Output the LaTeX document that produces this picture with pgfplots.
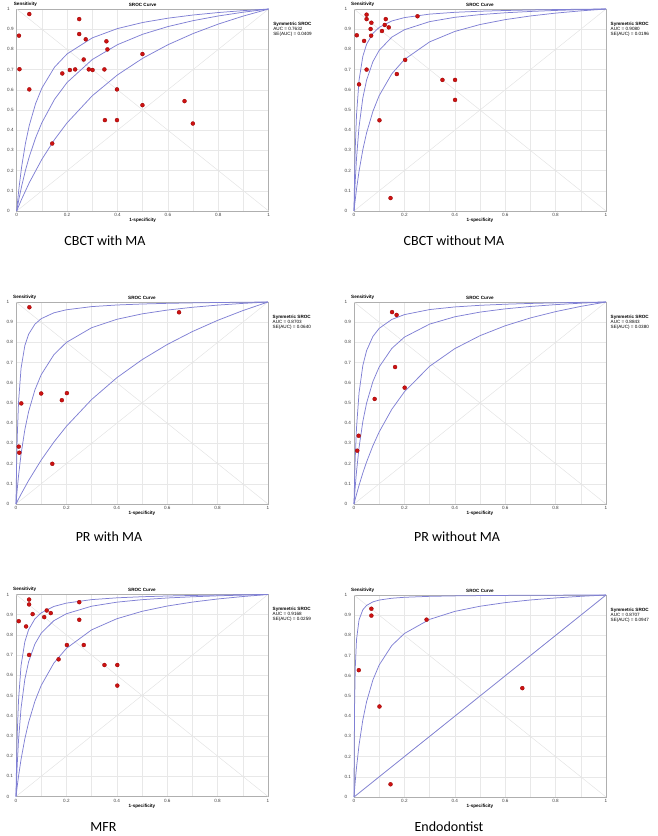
\documentclass[border=0pt]{standalone}
\usepackage{fontspec}
\setmainfont{Liberation Sans}
\newfontfamily\capfont{Carlito}
\usepackage{pgfplots}
\usepackage{pgfplotstable}
\pgfplotsset{compat=1.18}
\definecolor{curveblue}{RGB}{128,128,212}
\definecolor{ptred}{RGB}{205,18,18}
\definecolor{ptedge}{RGB}{150,0,0}
\definecolor{gridc}{RGB}{232,232,232}
\definecolor{framec}{RGB}{175,175,175}
\definecolor{diagc}{RGB}{228,228,228}

\newcommand{\smallfnt}{\fontsize{4.6}{5.2}\selectfont}
\pgfplotsset{
  sroc/.style={
    scale only axis, width=252pt, height=202pt,
    xmin=0, xmax=1, ymin=0, ymax=1,
    xtick={0,0.2,0.4,0.6,0.8,1}, xticklabels={0,0.2,0.4,0.6,0.8,1},
    minor xtick={0.1,0.3,0.5,0.7,0.9},
    ytick={0,0.1,0.2,0.3,0.4,0.5,0.6,0.7,0.8,0.9,1},
    yticklabels={0,0.1,0.2,0.3,0.4,0.5,0.6,0.7,0.8,0.9,1},
    grid=both, major grid style={draw=gridc, line width=0.5pt}, minor grid style={draw=gridc, line width=0.5pt},
    axis line style={draw=framec, line width=0.6pt},
    major tick length=0pt, minor tick length=0pt,
    tick label style={font=\smallfnt, text=black!75},
    yticklabel style={anchor=west, xshift=-13pt},
    xticklabel style={yshift=1pt},
    /pgf/number format/assume math mode=true,
    clip=false,
    anchor=north west,
  },
  curve/.style={draw=curveblue, line width=0.75pt, no marks},
  diag/.style={draw=diagc, line width=0.5pt, no marks},
  pts/.style={scatter, only marks, mark=*,
    visualization depends on={\thisrow{r}\as\perpointsize},
    scatter/@pre marker code/.append style={/tikz/mark size=\perpointsize},
    scatter/use mapped color={draw=ptedge, fill=ptred}, line width=0.3pt},
}
\newcommand{\decor}[2]{%
  \node[anchor=south west, font=\bfseries\smallfnt, inner sep=0pt] at (rel axis cs:0,1) [xshift=-3pt, yshift=2.5pt] {Sensitivity};
  \node[anchor=south, font=\bfseries\smallfnt, inner sep=0pt] at (rel axis cs:0.5,1) [yshift=2.5pt] {SROC Curve};
  \node[anchor=north, font=\bfseries\smallfnt, inner sep=0pt] at (rel axis cs:0.5,0) [yshift=-7pt] {1-specificity};
  \node[anchor=north west, font=\smallfnt, inner sep=0pt, align=left] at (rel axis cs:1,1) [xshift=4.5pt, yshift=-12.5pt] {\textbf{Symmetric SROC}\\AUC = #1\\SE(AUC) = #2};
  \addplot[diag] coordinates {(0,0)(1,1)};
  \addplot[diag] coordinates {(0,1)(1,0)};
}

\begin{document}
\begin{tikzpicture}
\path[use as bounding box] (0pt,0pt) rectangle (658pt,-836pt);

% ---------------- Panel 1: CBCT with MA
\begin{axis}[sroc, at={(16.7pt,-9pt)}]
\decor{0.7632}{0.0409}
\addplot[curve] coordinates {(0,0)(0.0025,0.0339)(0.005,0.0657)(0.01,0.1239)(0.02,0.2222)(0.035,0.3368)(0.05,0.4242)(0.075,0.5316)(0.1,0.6087)(0.15,0.7119)(0.2,0.7778)(0.3,0.8571)(0.4,0.9032)(0.5,0.9333)(0.6,0.9545)(0.7,0.9703)(0.8,0.9825)(0.9,0.9921)(1,1)};
\addplot[curve] coordinates {(0,0)(0.005,0.034)(0.01,0.066)(0.02,0.125)(0.035,0.2025)(0.05,0.2692)(0.075,0.3621)(0.1,0.4375)(0.15,0.5526)(0.2,0.6364)(0.3,0.75)(0.4,0.8235)(0.5,0.875)(0.6,0.913)(0.7,0.9423)(0.8,0.9655)(0.9,0.9844)(1,1)};
\addplot[curve] coordinates {(0,0)(0.01,0.0304)(0.02,0.0595)(0.05,0.1403)(0.1,0.2562)(0.15,0.3536)(0.2,0.4366)(0.3,0.5706)(0.4,0.6739)(0.5,0.7561)(0.6,0.823)(0.7,0.8785)(0.8,0.9254)(0.9,0.9654)(1,1)};
\addplot[pts] table {
x y r
0.050 0.975 2.1
0.248 0.950 2.1
0.009 0.868 2.6
0.248 0.876 1.6
0.274 0.850 2.1
0.356 0.840 1.6
0.360 0.800 2.1
0.499 0.777 1.6
0.266 0.750 2.6
0.011 0.702 2.6
0.181 0.681 1.9
0.211 0.698 2.0
0.232 0.701 1.7
0.286 0.701 2.1
0.301 0.698 1.7
0.348 0.701 1.7
0.050 0.602 1.6
0.398 0.602 1.6
0.499 0.524 2.0
0.666 0.544 1.9
0.699 0.433 1.9
0.350 0.450 1.7
0.398 0.450 1.6
0.141 0.334 1.6
};
\end{axis}

% ---------------- Panel 2: CBCT without MA
\begin{axis}[sroc, at={(354pt,-9pt)}]
\decor{0.9080}{0.0196}
\addplot[curve] coordinates {(0,0)(0.0005,0.0431)(0.001,0.0826)(0.0025,0.184)(0.005,0.3114)(0.01,0.4762)(0.02,0.6475)(0.035,0.7655)(0.05,0.8257)(0.075,0.8795)(0.1,0.9091)(0.15,0.9408)(0.2,0.9574)(0.3,0.9747)(0.4,0.9836)(0.5,0.989)(0.6,0.9926)(0.7,0.9953)(0.8,0.9972)(0.9,0.9988)(1,1)};
\addplot[curve] coordinates {(0,0)(0.001,0.0338)(0.0025,0.0806)(0.005,0.1496)(0.01,0.2612)(0.02,0.4167)(0.035,0.5594)(0.05,0.6481)(0.075,0.7394)(0.1,0.7955)(0.15,0.8607)(0.2,0.8974)(0.3,0.9375)(0.4,0.9589)(0.5,0.9722)(0.6,0.9813)(0.7,0.9879)(0.8,0.9929)(0.9,0.9968)(1,1)};
\addplot[curve] coordinates {(0,0)(0.0025,0.0292)(0.005,0.0569)(0.01,0.1081)(0.02,0.1967)(0.035,0.3032)(0.05,0.3871)(0.075,0.4932)(0.1,0.5714)(0.15,0.6792)(0.2,0.75)(0.3,0.8372)(0.4,0.8889)(0.5,0.9231)(0.6,0.9474)(0.7,0.9655)(0.8,0.9796)(0.9,0.9908)(1,1)};
\addplot[pts] table {
x y r
0.050 0.972 2.1
0.050 0.950 2.1
0.126 0.950 2.1
0.252 0.964 2.0
0.069 0.932 1.7
0.122 0.921 2.1
0.138 0.909 1.7
0.111 0.891 1.6
0.066 0.901 2.1
0.011 0.870 2.2
0.068 0.868 2.0
0.040 0.842 2.7
0.203 0.748 1.7
0.050 0.700 1.7
0.170 0.678 2.7
0.020 0.627 1.9
0.351 0.649 1.7
0.401 0.649 1.7
0.401 0.550 1.7
0.101 0.449 2.2
0.145 0.064 1.6
};
\end{axis}

% ---------------- Panel 3: PR with MA
\begin{axis}[sroc, at={(16pt,-302pt)}]
\decor{0.8703}{0.0640}
\addplot[curve] coordinates {(0,0)(0.0005,0.0476)(0.001,0.091)(0.0025,0.2004)(0.005,0.3344)(0.01,0.5025)(0.02,0.6711)(0.035,0.7839)(0.05,0.8403)(0.075,0.8902)(0.1,0.9174)(0.15,0.9464)(0.2,0.9615)(0.3,0.9772)(0.4,0.9852)(0.5,0.9901)(0.6,0.9934)(0.7,0.9957)(0.8,0.9975)(0.9,0.9989)(1,1)};
\addplot[curve] coordinates {(0,0)(0.0025,0.0386)(0.005,0.0744)(0.01,0.1391)(0.02,0.2462)(0.035,0.3672)(0.05,0.4571)(0.075,0.5647)(0.1,0.64)(0.15,0.7385)(0.2,0.8)(0.3,0.8727)(0.4,0.9143)(0.5,0.9412)(0.6,0.96)(0.7,0.9739)(0.8,0.9846)(0.9,0.9931)(1,1)};
\addplot[curve] coordinates {(0,0)(0.01,0.0246)(0.02,0.0485)(0.05,0.1163)(0.1,0.2174)(0.15,0.3061)(0.2,0.3846)(0.3,0.5172)(0.4,0.625)(0.5,0.7143)(0.6,0.7895)(0.7,0.8537)(0.8,0.9091)(0.9,0.9574)(1,1)};
\addplot[pts] table {
x y r
0.053 0.974 2.7
0.647 0.949 1.6
0.100 0.547 2.2
0.202 0.549 2.7
0.182 0.514 2.2
0.021 0.498 2.2
0.011 0.284 2.7
0.013 0.254 2.8
0.144 0.199 1.6
};
\end{axis}

% ---------------- Panel 4: PR without MA
\begin{axis}[sroc, at={(354pt,-302pt)}]
\decor{0.8843}{0.0380}
\addplot[curve] coordinates {(0,0)(0.001,0.0567)(0.0025,0.1307)(0.005,0.2317)(0.01,0.3774)(0.02,0.5505)(0.035,0.6852)(0.05,0.7595)(0.075,0.8295)(0.1,0.8696)(0.15,0.9137)(0.2,0.9375)(0.3,0.9626)(0.4,0.9756)(0.5,0.9836)(0.6,0.989)(0.7,0.9929)(0.8,0.9959)(0.9,0.9982)(1,1)};
\addplot[curve] coordinates {(0,0)(0.0025,0.0455)(0.005,0.0872)(0.01,0.161)(0.02,0.2794)(0.035,0.408)(0.05,0.5)(0.075,0.6064)(0.1,0.6786)(0.15,0.7703)(0.2,0.8261)(0.3,0.8906)(0.4,0.9268)(0.5,0.95)(0.6,0.9661)(0.7,0.9779)(0.8,0.987)(0.9,0.9942)(1,1)};
\addplot[curve] coordinates {(0,0)(0.005,0.0245)(0.01,0.0481)(0.02,0.0926)(0.035,0.1535)(0.05,0.2083)(0.075,0.2885)(0.1,0.3571)(0.15,0.4688)(0.2,0.5556)(0.3,0.6818)(0.4,0.7692)(0.5,0.8333)(0.6,0.8824)(0.7,0.9211)(0.8,0.9524)(0.9,0.9783)(1,1)};
\addplot[pts] table {
x y r
0.151 0.950 1.6
0.169 0.936 2.1
0.163 0.678 2.1
0.201 0.576 2.7
0.082 0.520 2.7
0.0185 0.338 2.1
0.013 0.264 2.8
};
\end{axis}

% ---------------- Panel 5: MFR
\begin{axis}[sroc, at={(16pt,-594.5pt)}]
\decor{0.9168}{0.0259}
\addplot[curve] coordinates {(0,0)(0.0005,0.0431)(0.001,0.0826)(0.0025,0.184)(0.005,0.3114)(0.01,0.4762)(0.02,0.6475)(0.035,0.7655)(0.05,0.8257)(0.075,0.8795)(0.1,0.9091)(0.15,0.9408)(0.2,0.9574)(0.3,0.9747)(0.4,0.9836)(0.5,0.989)(0.6,0.9926)(0.7,0.9953)(0.8,0.9972)(0.9,0.9988)(1,1)};
\addplot[curve] coordinates {(0,0)(0.001,0.0366)(0.0025,0.087)(0.005,0.1603)(0.01,0.2774)(0.02,0.4368)(0.035,0.5795)(0.05,0.6667)(0.075,0.755)(0.1,0.8085)(0.15,0.8702)(0.2,0.9048)(0.3,0.9421)(0.4,0.962)(0.5,0.9744)(0.6,0.9828)(0.7,0.9888)(0.8,0.9935)(0.9,0.9971)(1,1)};
\addplot[curve] coordinates {(0,0)(0.0025,0.0268)(0.005,0.0524)(0.01,0.1)(0.02,0.1833)(0.035,0.2852)(0.05,0.3667)(0.075,0.4714)(0.1,0.55)(0.15,0.66)(0.2,0.7333)(0.3,0.825)(0.4,0.88)(0.5,0.9167)(0.6,0.9429)(0.7,0.9625)(0.8,0.9778)(0.9,0.99)(1,1)};
\addplot[pts] table {
x y r
0.052 0.975 2.1
0.052 0.951 2.1
0.251 0.962 2.1
0.122 0.921 2.6
0.138 0.908 2.0
0.066 0.903 2.1
0.112 0.888 1.6
0.251 0.875 1.6
0.011 0.868 2.2
0.040 0.842 2.8
0.202 0.750 1.9
0.269 0.750 2.6
0.052 0.701 1.7
0.169 0.679 2.7
0.351 0.651 1.9
0.402 0.651 1.9
0.402 0.549 1.9
};
\end{axis}

% ---------------- Panel 6: Endodontist
\begin{axis}[sroc, at={(354pt,-595pt)}]
\decor{0.8707}{0.0947}
\addplot[curve] coordinates {(0,0)(0.0005,0.149)(0.001,0.259)(0.0025,0.467)(0.005,0.6375)(0.01,0.7795)(0.02,0.877)(0.035,0.927)(0.05,0.9485)(0.075,0.966)(0.1,0.975)(0.15,0.984)(0.2,0.9887)(0.3,0.9934)(0.4,0.9957)(0.5,0.9972)(0.6,0.9981)(0.7,0.9988)(0.8,0.9993)(0.9,0.9997)(1,1)};
\addplot[curve] coordinates {(0,0)(0.0025,0.0409)(0.005,0.0787)(0.01,0.1466)(0.02,0.2576)(0.035,0.3814)(0.05,0.4722)(0.075,0.5795)(0.1,0.6538)(0.15,0.75)(0.2,0.8095)(0.3,0.8793)(0.4,0.9189)(0.5,0.9444)(0.6,0.9623)(0.7,0.9754)(0.8,0.9855)(0.9,0.9935)(1,1)};
\addplot[curve] coordinates {(0,0)(1,1)};
\addplot[pts] table {
x y r
0.069 0.932 2.2
0.069 0.898 2.6
0.288 0.878 2.1
0.019 0.628 2.6
0.101 0.448 2.7
0.668 0.539 2.1
0.145 0.063 1.7
};
\end{axis}

% captions
\node[font=\capfont\fontsize{14}{16}\selectfont] at (105pt,-241pt) {CBCT with MA};
\node[font=\capfont\fontsize{14}{16}\selectfont] at (454pt,-241pt) {CBCT without MA};
\node[font=\capfont\fontsize{14}{16}\selectfont] at (109pt,-537pt) {PR with MA};
\node[font=\capfont\fontsize{14}{16}\selectfont] at (457pt,-537pt) {PR without MA};
\node[font=\capfont\fontsize{14}{16}\selectfont, inner sep=1pt] at (103.5pt,-827pt) {MFR};
\node[font=\capfont\fontsize{14}{16}\selectfont, inner sep=1pt] at (449pt,-827pt) {Endodontist};
\end{tikzpicture}
\end{document}
